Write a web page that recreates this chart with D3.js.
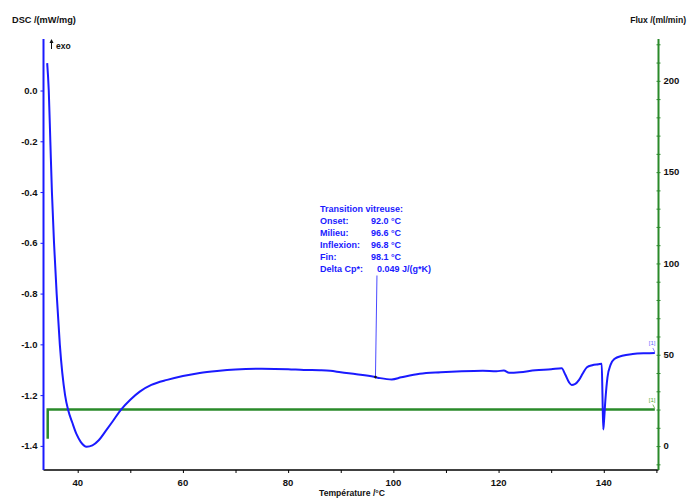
<!DOCTYPE html>
<html>
<head>
<meta charset="utf-8">
<script src="https://cdn.jsdelivr.net/npm/d3@7/dist/d3.min.js"></script>
<style>
  html, body { margin: 0; padding: 0; background: #fff; }
  svg { display: block; }
  text { font-family: "Liberation Sans", Arial, sans-serif; }
</style>
</head>
<body>
<svg id="chart" width="687" height="498"></svg>
<script>
// DSC signal (mW/mg) against temperature (°C)
const dscTemp = [34.2, 34.5, 34.8, 35.1, 35.5, 36.0, 36.6, 37.6, 38.2, 39.0, 39.8, 40.6, 41.7, 42.8, 44.0,
  45.3, 46.7, 48.2, 50.0, 51.8, 54.0, 57.0, 60.0, 63.2, 66.5, 70.0, 75.0, 80.0, 83.0, 86.0, 88.0, 90.0,
  93.0, 96.3, 97.5, 99.7, 101.5, 105.0, 109.0, 113.0, 117.0, 119.6, 121.0, 122.0, 124.0, 127.0, 130.0,
  132.0, 132.7, 133.4, 133.9, 134.5, 135.3, 136.0, 136.8, 137.8, 139.0, 139.6, 139.75, 139.9, 140.05,
  140.3, 140.7, 141.3, 142.0, 143.5, 145.5, 148.0, 149.7];
const dscValue = [0.108, 0.0, -0.2, -0.4, -0.6, -0.8, -1.0, -1.2, -1.26, -1.31, -1.355, -1.385, -1.403, -1.398, -1.378,
  -1.342, -1.302, -1.258, -1.218, -1.186, -1.160, -1.140, -1.125, -1.113, -1.105, -1.099, -1.096, -1.098, -1.101, -1.102, -1.104, -1.110,
  -1.118, -1.128, -1.133, -1.138, -1.130, -1.116, -1.110, -1.106, -1.104, -1.106, -1.103, -1.112, -1.110, -1.102, -1.098,
  -1.094, -1.12, -1.15, -1.16, -1.157, -1.14, -1.115, -1.09, -1.082, -1.078, -1.076, -1.2, -1.335, -1.30,
  -1.22, -1.13, -1.08, -1.058, -1.045, -1.038, -1.035, -1.034];

// Purge gas flow (ml/min)
const fluxTemp = [34.3, 34.3, 149.7];
const fluxValue = [4, 20, 20];

// Axis ticks
const tempTicks = [40, 60, 80, 100, 120, 140];
const tempMinorTicks = [40, 50, 60, 70, 80, 90, 100, 110, 120, 130, 140, 150];
const dscTicks = [0.0, -0.2, -0.4, -0.6, -0.8, -1.0, -1.2, -1.4];
const fluxTicks = [0, 50, 100, 150, 200];
const fluxMinorTicks = d3.range(-10, 221, 10);

// Glass transition evaluation
const tgLabels = ["Onset:", "Milieu:", "Inflexion:", "Fin:"];
const tgValues = ["92.0 °C", "96.6 °C", "96.8 °C", "98.1 °C"];
const tgMid = 96.6;
const tgMidValue = -1.129;
const deltaCp = "0.049 J/(g*K)";

const blue = "#1a1aff";
const green = "#2a8a2a";

const svg = d3.select("#chart");
const plotLeft = 43.5, plotRight = 658.5, plotTop = 39, plotBottom = 470;

const x = d3.scaleLinear().domain([33.5, 150.4]).range([plotLeft, plotRight]);
const y = d3.scaleLinear().domain([-1.495, 0.203]).range([plotBottom, plotTop]);
const y2 = d3.scaleLinear().domain([-13.1, 222.9]).range([plotBottom, plotTop]);

// Bottom axis
const gx = svg.append("g").attr("transform", `translate(0,${plotBottom})`);
gx.call(d3.axisBottom(x).tickValues(tempMinorTicks).tickSize(3).tickFormat(""));
gx.select(".domain").attr("stroke", "#000").attr("stroke-width", 1.6).attr("d", `M${plotLeft},0H${plotRight}`);
gx.selectAll(".tick line").attr("stroke", "#000");
gx.selectAll(".tick text").remove();
gx.selectAll(".lbl").data(tempTicks).enter().append("text")
  .attr("x", d => x(d)).attr("y", 15.5)
  .attr("text-anchor", "middle").attr("font-size", 9.5).attr("font-weight", "bold").attr("fill", "#111")
  .text(d => d);

// Left DSC axis
const gy = svg.append("g").attr("transform", `translate(${plotLeft},0)`);
gy.call(d3.axisLeft(y).tickValues(dscTicks).tickSize(3).tickPadding(3).tickFormat(d3.format(".1f")));
gy.select(".domain").attr("stroke", blue).attr("stroke-width", 2).attr("d", `M0,${plotTop}V${plotBottom}`);
gy.selectAll(".tick line").attr("stroke", blue);
gy.selectAll(".tick text").attr("font-size", 9.5).attr("font-weight", "bold").attr("fill", "#111")
  .attr("font-family", null).text(d => d3.format(".1f")(d).replace("−", "-"));

// Right flux axis
const gy2 = svg.append("g").attr("transform", `translate(${plotRight},0)`);
gy2.call(d3.axisRight(y2).tickValues(fluxMinorTicks).tickSize(2).tickFormat(""));
gy2.select(".domain").attr("stroke", green).attr("stroke-width", 2).attr("d", `M0,${plotTop}V${plotBottom}`);
gy2.selectAll(".tick line").attr("stroke", green).attr("x1", -2);
gy2.selectAll(".tick text").remove();
gy2.selectAll(".lbl").data(fluxTicks).enter().append("text")
  .attr("x", 5).attr("y", d => y2(d)).attr("dy", "0.35em")
  .attr("font-size", 9.5).attr("font-weight", "bold").attr("fill", "#111")
  .text(d => d);
svg.selectAll(".domain").attr("fill", "none");

// Axis titles
svg.append("text").attr("x", 12).attr("y", 23).attr("font-size", 9.2).attr("font-weight", "bold")
  .attr("fill", "#111").text("DSC /(mW/mg)");
svg.append("text").attr("x", 686).attr("y", 23).attr("text-anchor", "end").attr("font-size", 8.6)
  .attr("font-weight", "bold").attr("fill", "#111").text("Flux /(ml/min)");
svg.append("text").attr("x", 352).attr("y", 496).attr("text-anchor", "middle").attr("font-size", 8.6)
  .attr("font-weight", "bold").attr("fill", "#111").text("Température /°C");

// exo direction marker
svg.append("line").attr("x1", 51.5).attr("x2", 51.5).attr("y1", 49).attr("y2", 40)
  .attr("stroke", "#111").attr("stroke-width", 1);
svg.append("path").attr("d", "M49.5,43 L51.5,39 L53.5,43 Z").attr("fill", "#111");
svg.append("text").attr("x", 56).attr("y", 48.5).attr("font-size", 8.5).attr("font-weight", "bold")
  .attr("fill", "#111").text("exo");

// Flux curve
const fluxLine = d3.line().x((d, i) => x(fluxTemp[i])).y(d => y2(d));
svg.append("path").datum(fluxValue).attr("d", fluxLine)
  .attr("fill", "none").attr("stroke", green).attr("stroke-width", 2.5);

// DSC curve
const dscLine = d3.line().x((d, i) => x(dscTemp[i])).y(d => y(d)).curve(d3.curveMonotoneX);
svg.append("path").datum(dscValue).attr("d", dscLine)
  .attr("fill", "none").attr("stroke", blue).attr("stroke-width", 2);

// Curve identifiers
const lastT = dscTemp[dscTemp.length - 1];
const lastV = dscValue[dscValue.length - 1];
svg.append("text").attr("x", x(lastT) - 6).attr("y", y(lastV) - 8)
  .attr("font-size", 6).attr("fill", "#6666ff").text("[1]");
svg.append("line").attr("x1", x(lastT) - 2).attr("y1", y(lastV) - 5)
  .attr("x2", x(lastT)).attr("y2", y(lastV) - 1).attr("stroke", "#6666ff").attr("stroke-width", 0.8);
const lastF = fluxTemp[fluxTemp.length - 1];
const lastFV = fluxValue[fluxValue.length - 1];
svg.append("text").attr("x", x(lastF) - 6).attr("y", y2(lastFV) - 8)
  .attr("font-size", 6).attr("fill", "#55aa33").text("[1]");
svg.append("line").attr("x1", x(lastF) - 2).attr("y1", y2(lastFV) - 5)
  .attr("x2", x(lastF)).attr("y2", y2(lastFV) - 1).attr("stroke", "#55aa33").attr("stroke-width", 0.8);

// Glass transition annotation
const ann = svg.append("g").attr("fill", blue).attr("font-size", 9).attr("font-weight", "bold");
const annX = 320, annY = 211.5, rowH = 12;
ann.append("text").attr("x", annX).attr("y", annY).text("Transition vitreuse:");
tgLabels.forEach((t, i) => {
  ann.append("text").attr("x", annX).attr("y", annY + rowH * (i + 1)).text(t);
  ann.append("text").attr("x", 371).attr("y", annY + rowH * (i + 1)).text(tgValues[i]);
});
ann.append("text").attr("x", annX).attr("y", annY + rowH * 5).text("Delta Cp*:");
ann.append("text").attr("x", 377).attr("y", annY + rowH * 5).text(deltaCp);

svg.append("line").attr("x1", x(tgMid) + 1.5).attr("y1", annY + rowH * 5 + 4)
  .attr("x2", x(tgMid)).attr("y2", y(tgMidValue))
  .attr("stroke", blue).attr("stroke-width", 0.8);
svg.append("circle").attr("cx", x(tgMid)).attr("cy", y(tgMidValue)).attr("r", 1.3).attr("fill", "#111");
</script>
</body>
</html>
